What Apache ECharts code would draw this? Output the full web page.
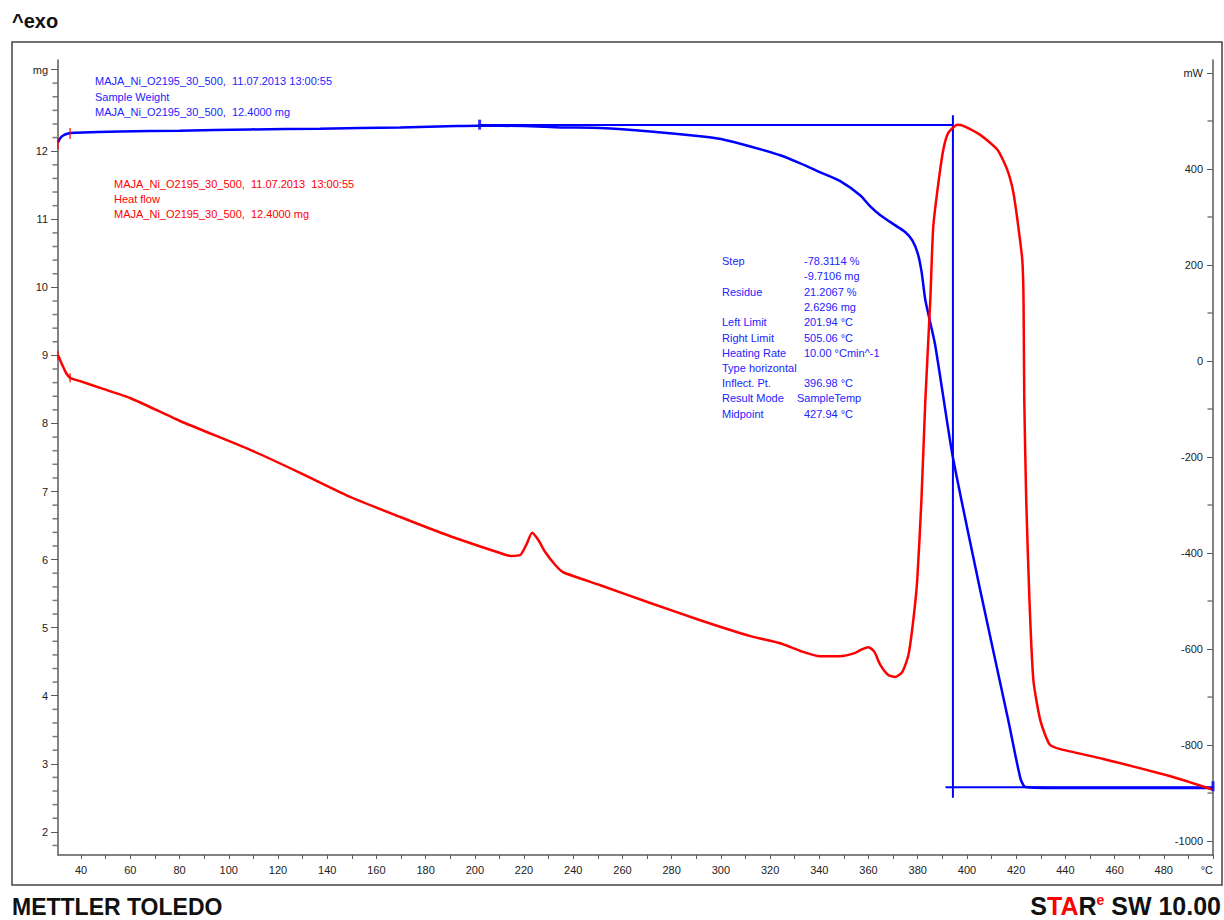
<!DOCTYPE html>
<html><head><meta charset="utf-8">
<script src="https://cdn.jsdelivr.net/npm/echarts@6/dist/echarts.min.js"></script>
<style>html,body{margin:0;padding:0;background:#fff}#c{width:1224px;height:920px}</style>
</head><body><div id="c"></div>
<script>
// ---- Sample weight (mg) vs temperature (°C)
const weightT  = [30.6, 31.5, 32.7, 34.7, 37.6, 55.9, 80.0, 108.7, 137.0, 169.7, 192.8, 201.4, 220.0, 235.0, 251.0, 271.3, 291.6, 300.0, 312.0, 324.1, 332.3, 340.4, 348.5, 356.7, 360.7, 364.8, 370.9, 375.0, 377.8, 380.0, 381.6, 383.1, 387.1, 394.1, 405.4, 416.8, 421.7, 423.7, 440.0, 470.0, 500.0];
const weightMg = [12.13, 12.19, 12.23, 12.26, 12.27, 12.29, 12.30, 12.32, 12.33, 12.35, 12.37, 12.375, 12.37, 12.35, 12.34, 12.29, 12.22, 12.18, 12.07, 11.94, 11.82, 11.69, 11.56, 11.35, 11.19, 11.06, 10.91, 10.81, 10.69, 10.50, 10.22, 9.81, 9.15, 7.54, 5.55, 3.64, 2.79, 2.66, 2.645, 2.645, 2.645];

// ---- Heat flow (mW) vs temperature (°C)
const heatT  = [30.65, 32.3, 33.9, 35.5, 39.6, 47.7, 59.9, 80.2, 108.7, 129.0, 149.3, 169.7, 190.0, 210.3, 214.4, 218.5, 220.9, 223.3, 225.8, 228.6, 232.7, 235.9, 251.0, 271.3, 291.6, 312.0, 324.1, 332.3, 340.4, 348.5, 354.6, 357.5, 360.0, 362.4, 364.8, 368.0, 370.9, 373.7, 376.2, 378.2, 379.8, 381.5, 383.1, 385.1, 386.3, 388.4, 390.4, 392.4, 396.1, 398.5, 405.4, 412.4, 416.4, 418.9, 420.9, 422.5, 423.0, 423.3, 424.1, 425.4, 427.0, 429.8, 433.5, 437.6, 455.4, 482.7, 500.0];
const heatMw = [12, -8, -25, -35, -42, -56, -77, -125, -185, -233, -283, -325, -365, -400, -406, -404, -383, -358, -373, -398, -425, -440, -467, -504, -540, -573, -588, -604, -615, -615, -608, -600, -596, -606, -633, -654, -658, -648, -613, -540, -456, -290, -81, 127, 279, 371, 440, 475, 492, 490, 471, 440, 398, 350, 279, 210, 127, -81, -290, -498, -665, -748, -798, -808, -829, -865, -893];

// ---- Step evaluation construction lines
const evalTopT   = [201.94, 394.3];
const evalTopMg  = [12.385, 12.385];
const evalVertT  = [394.3, 394.3];
const evalVertMg = [12.53, 2.50];
const evalBotT   = [391.3, 500];
const evalBotMg  = [2.655, 2.655];

// ---- small limit markers
const redMarkWeightT  = [30.6, 35.5];
const redMarkWeightMg = [12.11, 12.26];
const redMarkHeatT    = [30.6, 35.5];
const redMarkHeatMw   = [12, -35];
const blueMarkT  = [201.94, 500];
const blueMarkMg = [12.39, 2.67];

// ---- ticks
const xMin = 30.6, xMax = 500;
const xLabelValues = [40,60,80,100,120,140,160,180,200,220,240,260,280,300,320,340,360,380,400,420,440,460,480,500];
const xTickValues  = [40,50,60,70,80,90,100,110,120,130,140,150,160,170,180,190,200,210,220,230,240,250,260,270,280,290,300,310,320,330,340,350,360,370,380,390,400,410,420,430,440,450,460,470,480,490,500];
const leftLabelValues  = [2,3,4,5,6,7,8,9,10,11,12,13.2];
const leftMinorValues  = [1.8,2.2,2.4,2.6,2.8,3.2,3.4,3.6,3.8,4.2,4.4,4.6,4.8,5.2,5.4,5.6,5.8,6.2,6.4,6.6,6.8,7.2,7.4,7.6,7.8,8.2,8.4,8.6,8.8,9.2,9.4,9.6,9.8,10.2,10.4,10.6,10.8,11.2,11.4,11.6,11.8,12.2,12.4,12.6,12.8,13];
const rightLabelValues = [-1000,-800,-600,-400,-200,0,200,400,600];
const rightMinorValues = [-900,-700,-500,-300,-100,100,300,500];

const zip = (a, b) => a.map((v, i) => [v, b[i]]);

const chart = echarts.init(document.getElementById('c'), null, {renderer: 'svg'});
const axisCol = '#5a5a5a';
const labFont = {color: '#222', fontSize: 11, fontFamily: 'Liberation Sans'};
const txt = (x, y, s, col) => ({type: 'text', left: x, top: y, style: {text: s, fill: col, font: '11px "Liberation Sans"'}});

const blue = '#0000ff', red = '#ff0000', tBlue = '#2323ff';
const resLabels = ['Step', '', 'Residue', '', 'Left Limit', 'Right Limit', 'Heating Rate', 'Type horizontal', 'Inflect. Pt.', 'Result Mode', 'Midpoint'];
const resValues = ['-78.3114 %', '-9.7106 mg', '21.2067 %', '2.6296 mg', '201.94 °C', '505.06 °C', '10.00 °Cmin^-1', '', '396.98 °C', 'SampleTemp', '427.94 °C'];
const resRowsY  = [255, 270, 286, 301, 316, 332, 347, 362, 377, 392, 408];

const graphics = [
  {type: 'rect', shape: {x: 12, y: 42, width: 1210, height: 843}, style: {fill: 'none', stroke: '#444', lineWidth: 1.5}, silent: true},
  {type: 'text', left: 12, top: 11, style: {text: '^exo', fill: '#111', font: 'bold 20px "Liberation Sans"'}},
  {type: 'text', left: 12, top: 895, style: {text: 'METTLER TOLEDO', fill: '#111', font: 'bold 23px "Liberation Sans"'}},
  {type: 'text', right: 3, top: 893, style: {
      text: '{k|S}{r|TA}{k|R}{s|e}{k| SW 10.00}',
      rich: {k: {fill: '#111', font: 'bold 25px "Liberation Sans"'},
             r: {fill: '#ff0000', font: 'bold 25px "Liberation Sans"'},
             s: {fill: '#ff0000', font: 'bold 14px "Liberation Sans"', verticalAlign: 'top', padding: [0,0,11,0]}}}},
  txt(95, 75, 'MAJA_Ni_O2195_30_500,  11.07.2013 13:00:55', tBlue),
  txt(95, 91, 'Sample Weight', tBlue),
  txt(95, 106, 'MAJA_Ni_O2195_30_500,  12.4000 mg', tBlue),
  txt(114, 178, 'MAJA_Ni_O2195_30_500,  11.07.2013  13:00:55', red),
  txt(114, 193, 'Heat flow', red),
  txt(114, 208, 'MAJA_Ni_O2195_30_500,  12.4000 mg', red)
];
resLabels.forEach((s, i) => { if (s) graphics.push(txt(722, resRowsY[i], s, tBlue)); });
resValues.forEach((s, i) => { if (s) graphics.push(txt(i === 9 ? 797 : 804, resRowsY[i], s, tBlue)); });

const option = {
  animation: false,
  backgroundColor: '#fff',
  grid: {left: 58, right: 11, top: 60, bottom: 65, outerBoundsMode: 'none'},
  xAxis: {
    type: 'value', min: xMin, max: xMax,
    axisLine: {show: true, onZero: false, lineStyle: {color: axisCol, width: 1.5}},
    axisTick: {show: true, customValues: xTickValues, length: 4, lineStyle: {color: axisCol}},
    axisLabel: Object.assign({customValues: xLabelValues, margin: 9, alignMaxLabel: 'right', formatter: v => v === 500 ? '°C' : String(v)}, labFont),
    splitLine: {show: false}
  },
  yAxis: [
    {type: 'value', position: 'left', min: 1.66, max: 13.34,
     axisLine: {show: true, onZero: false, lineStyle: {color: axisCol, width: 1.5}},
     axisTick: {show: true, customValues: leftLabelValues, length: 7, lineStyle: {color: axisCol}},
     axisLabel: Object.assign({customValues: leftLabelValues, margin: 10, formatter: v => v > 13 ? 'mg' : String(v)}, labFont),
     splitLine: {show: false}},
    {type: 'value', position: 'right', min: -1029, max: 627,
     axisLine: {show: true, onZero: false, lineStyle: {color: axisCol, width: 1.5}},
     axisTick: {show: true, inside: true, customValues: rightLabelValues, length: 6, lineStyle: {color: axisCol}},
     axisLabel: Object.assign({inside: true, customValues: rightLabelValues, margin: 10, formatter: v => v === 600 ? 'mW' : String(v)}, labFont),
     splitLine: {show: false}}
  ],
  graphic: graphics,
  series: [
    {name: 'Sample Weight', type: 'line', yAxisIndex: 0, data: zip(weightT, weightMg), showSymbol: false, smooth: 0.2, lineStyle: {color: blue, width: 2.5}, z: 3},
    {name: 'Heat flow', type: 'line', yAxisIndex: 1, data: zip(heatT, heatMw), showSymbol: false, smooth: 0.2, lineStyle: {color: red, width: 2.5}, z: 4},
    {type: 'line', yAxisIndex: 0, data: zip(evalTopT, evalTopMg), showSymbol: false, lineStyle: {color: blue, width: 2}, z: 2},
    {type: 'line', yAxisIndex: 0, data: zip(evalVertT, evalVertMg), showSymbol: false, lineStyle: {color: blue, width: 2}, z: 2},
    {type: 'line', yAxisIndex: 0, data: zip(evalBotT, evalBotMg), showSymbol: false, lineStyle: {color: blue, width: 2}, z: 2},
    {type: 'scatter', yAxisIndex: 0, data: zip(redMarkWeightT, redMarkWeightMg), symbol: 'rect', symbolSize: [1.5, 11], itemStyle: {color: red}, z: 5},
    {type: 'scatter', yAxisIndex: 1, data: zip(redMarkHeatT, redMarkHeatMw), symbol: 'rect', symbolSize: [1.5, 9], itemStyle: {color: red}, z: 5},
    {type: 'scatter', yAxisIndex: 0, data: zip(blueMarkT, blueMarkMg), symbol: 'rect', symbolSize: [3, 10], itemStyle: {color: blue}, z: 5},
    // minor axis ticks, placed on the axis edges through the axis scales
    {type: 'scatter', yAxisIndex: 0, data: leftMinorValues.map(v => [xMin, v]), symbol: 'rect', symbolSize: [5, 1.5], symbolOffset: [-3, 0], itemStyle: {color: axisCol}, silent: true, clip: false, z: 6},
    {type: 'scatter', yAxisIndex: 1, data: rightMinorValues.map(v => [xMax, v]), symbol: 'rect', symbolSize: [5, 1.5], symbolOffset: [-3, 0], itemStyle: {color: axisCol}, silent: true, clip: false, z: 6}
  ]
};
chart.setOption(option);
</script>
</body></html>
